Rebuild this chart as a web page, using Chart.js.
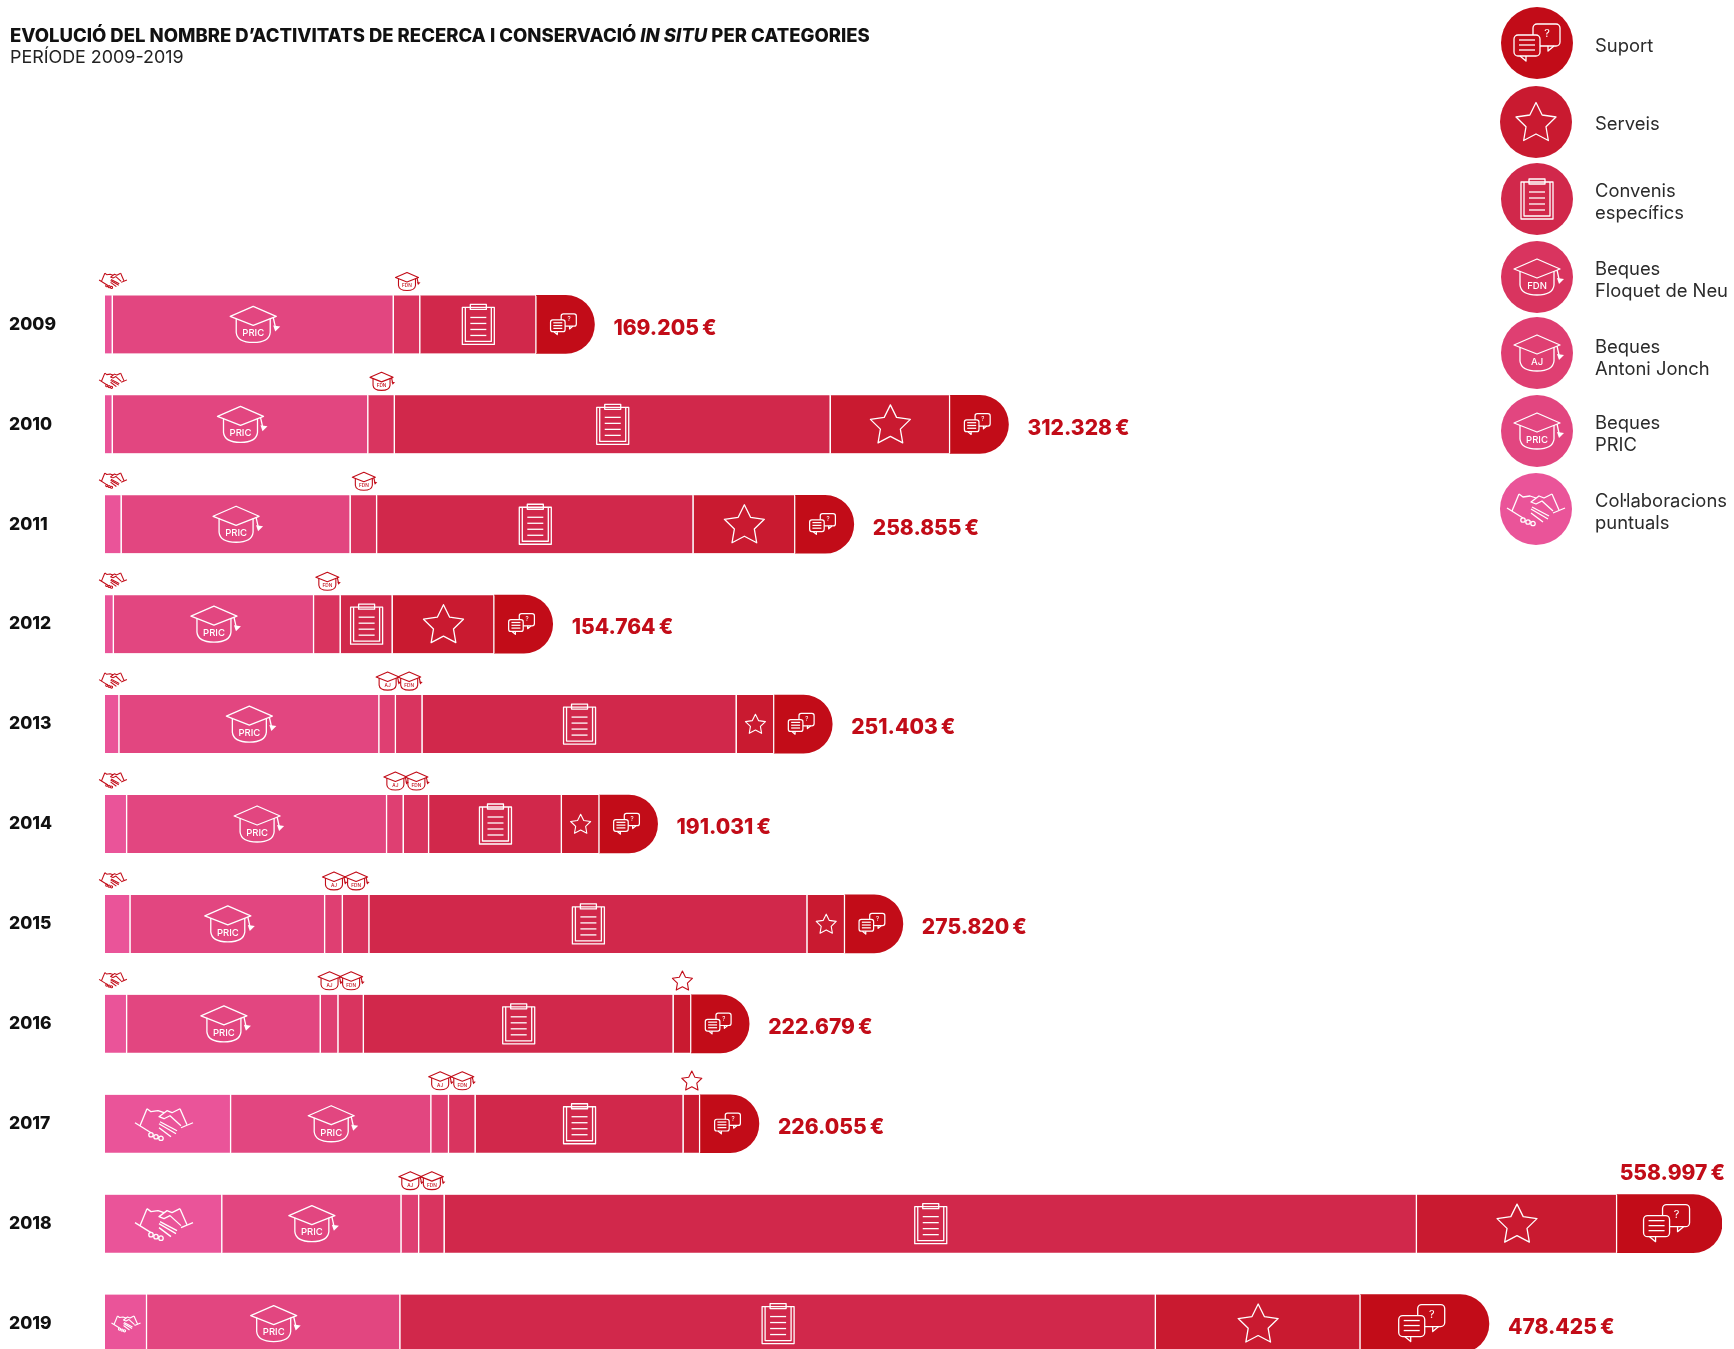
<!DOCTYPE html>
<html lang="ca">
<head>
<meta charset="utf-8">
<title>Evolució del nombre d'activitats</title>
<script src="https://cdn.jsdelivr.net/npm/chart.js@4"></script>
<style>
html, body { margin: 0; padding: 0; width: 1734px; height: 1349px; overflow: hidden; background: #fff; }
#wrap { position: relative; width: 1734px; height: 1349px; overflow: hidden; font-family: Inter, sans-serif; }
#wrap canvas { position: absolute; left: 0; top: 0; }
#title { position: absolute; left: 10px; top: 24px; font-size: 18.5px; font-weight: 800; color: #111; white-space: nowrap; line-height: 22px; }
#subtitle { position: absolute; left: 10px; top: 46px; font-size: 17.9px; font-weight: 400; color: #222; white-space: nowrap; line-height: 22px; }
.leg { position: absolute; left: 1595px; font-size: 18.4px; line-height: 22px; color: #2b2b2b; white-space: nowrap; }
</style>
</head>
<body>
<div id="wrap">
  <canvas id="chart" width="1734" height="1400" style="width:1734px;height:1400px"></canvas>
  <div id="title">EVOLUCIÓ DEL NOMBRE D’ACTIVITATS DE RECERCA I CONSERVACIÓ <i>IN SITU</i> PER CATEGORIES</div>
  <div id="subtitle">PERÍODE 2009-2019</div>
</div>
<script>
const years = ['2009','2010','2011','2012','2013','2014','2015','2016','2017','2018','2019'];

const collab   = [2677, 2677, 5736, 3059, 4971, 7648, 8795, 7648, 43594, 40534, 14531];
const pric     = [97130, 88334, 79157, 69214, 89864, 89864, 67302, 66920, 69214, 61949, 87570];
const jonch    = [null, null, null, null, 5736, 5736, 6118, 6118, 6118, 6118, null];
const floquet  = [9178, 9178, 9178, 9178, 9178, 8795, 9178, 8795, 9178, 8795, null];
const convenis = [40152, 150666, 109366, 17973, 108602, 45888, 151430, 107072, 71891, 336130, 261179];
const serveis  = [null, 41299, 35181, 35181, 13002, 13002, 13002, 6118, 5736, 69214, 70744];
const suport   = [20068, 20174, 20237, 20159, 20050, 20098, 19995, 20008, 20324, 36257, 44401];
const totals   = ['169.205\u2009€','312.328\u2009€','258.855\u2009€','154.764\u2009€','251.403\u2009€','191.031\u2009€','275.820\u2009€','222.679\u2009€','226.055\u2009€','558.997\u2009€','478.425\u2009€'];

const RED = '#c20c18';
const colors = ['#ea5499', '#e24680', '#df3f72', '#d9345f', '#d1284b', '#c91a30', RED];
const names = ['Col·laboracions', 'Beques PRIC', 'Beques Antoni Jonch', 'Beques Floquet de Neu', 'Convenis específics', 'Serveis', 'Suport'];
const series = [collab, pric, jonch, floquet, convenis, serveis, suport];

const legendItems = [
  { label: ['Suport'], icon: 'bubbles', color: colors[6], cx: 1537, cy: 43, ty: 34 },
  { label: ['Serveis'], icon: 'star', color: colors[5], cx: 1536, cy: 122, ty: 112 },
  { label: ['Convenis', 'específics'], icon: 'clipboard', color: colors[4], cx: 1537, cy: 199, ty: 179 },
  { label: ['Beques', 'Floquet de Neu'], icon: 'hat', text: 'FDN', color: colors[3], cx: 1537, cy: 277, ty: 257 },
  { label: ['Beques', 'Antoni Jonch'], icon: 'hat', text: 'AJ', color: colors[2], cx: 1537, cy: 353, ty: 335 },
  { label: ['Beques', 'PRIC'], icon: 'hat', text: 'PRIC', color: colors[1], cx: 1537, cy: 431, ty: 411 },
  { label: ['Col·laboracions', 'puntuals'], icon: 'hands', color: colors[0], cx: 1536, cy: 509, ty: 489 }
];

legendItems.forEach(item => {
  const d = document.createElement('div');
  d.className = 'leg';
  d.style.top = item.ty + 'px';
  d.innerHTML = item.label.join('<br>');
  document.getElementById('wrap').appendChild(d);
});

function line(ctx, pts) {
  ctx.beginPath();
  pts.forEach((p, i) => i ? ctx.lineTo(p[0], p[1]) : ctx.moveTo(p[0], p[1]));
  ctx.stroke();
}

function drawHat(ctx, text) {
  ctx.beginPath();
  ctx.moveTo(-17, -6);
  ctx.lineTo(-17, 8);
  ctx.quadraticCurveTo(-16, 18, 0, 18);
  ctx.quadraticCurveTo(16, 18, 17, 8);
  ctx.lineTo(17, -6);
  ctx.stroke();
  ctx.beginPath();
  ctx.moveTo(0, -18);
  ctx.lineTo(23, -8);
  ctx.lineTo(0, 1);
  ctx.lineTo(-23, -8);
  ctx.closePath();
  ctx.stroke();
  line(ctx, [[20, -7], [22, 2]]);
  ctx.beginPath();
  ctx.moveTo(20, 1);
  ctx.lineTo(27, 2);
  ctx.lineTo(22, 7);
  ctx.closePath();
  ctx.fill();
  if (text) {
    ctx.font = '500 9.5px Inter, sans-serif';
    ctx.textAlign = 'center';
    ctx.textBaseline = 'middle';
    ctx.fillText(text, 0, 9);
  }
}

function drawClipboard(ctx) {
  ctx.strokeRect(-16, -17, 32, 37);
  line(ctx, [[-13, -17], [-13, 17], [13, 17], [13, -17]]);
  ctx.strokeRect(-8, -20, 16, 5);
  [-7, -1, 5, 11].forEach(y => line(ctx, [[-8, y], [8, y]]));
}

function drawStar(ctx) {
  ctx.beginPath();
  for (let i = 0; i < 10; i++) {
    const r = i % 2 ? 10.5 : 21;
    const a = -Math.PI / 2 + i * Math.PI / 5;
    const px = r * Math.cos(a), py = 1.5 + r * Math.sin(a);
    i ? ctx.lineTo(px, py) : ctx.moveTo(px, py);
  }
  ctx.closePath();
  ctx.stroke();
}

function roundBox(ctx, x, y, w, h) {
  ctx.beginPath();
  ctx.roundRect(x, y, w, h, 4);
  ctx.stroke();
}

function drawBubbles(ctx, fill) {
  roundBox(ctx, -4, -19, 27, 22);
  line(ctx, [[17, 3], [11, 8], [11, 3]]);
  ctx.save();
  ctx.fillStyle = fill;
  ctx.beginPath();
  ctx.roundRect(-23, -8, 26, 21, 4);
  ctx.fill();
  ctx.restore();
  roundBox(ctx, -23, -8, 26, 21);
  line(ctx, [[-17, 13], [-11, 18], [-11, 13]]);
  [-3, 2, 7].forEach(y => line(ctx, [[-18, y], [-2, y]]));
  ctx.font = '400 11px Inter, sans-serif';
  ctx.textAlign = 'center';
  ctx.textBaseline = 'middle';
  ctx.fillText('?', 10, -9);
}

function drawHands(ctx) {
  line(ctx, [[-29, -1], [-13, 9]]);
  line(ctx, [[-24, 2], [-17, -15]]);
  line(ctx, [[-17, -15], [-13, -12], [-6, -13], [0, -11]]);
  line(ctx, [[29, -1], [17, 4]]);
  line(ctx, [[23, 1], [16, -15]]);
  line(ctx, [[16, -15], [8, -11], [3, -13], [-5, -7], [0, -5], [6, -8], [17, 2]]);
  line(ctx, [[-4, -2], [13, 7]]);
  line(ctx, [[-5, 0], [12, 10]]);
  line(ctx, [[-5, 4], [7, 13]]);
  [[-13, 11], [-8, 13], [-3, 14.5]].forEach(k => {
    ctx.beginPath();
    ctx.arc(k[0], k[1], 2.2, 0, Math.PI * 2);
    ctx.stroke();
  });
}

function drawIcon(ctx, kind, cx, cy, scale, color, fill, text) {
  ctx.save();
  ctx.translate(cx, cy);
  ctx.scale(scale, scale);
  ctx.strokeStyle = color;
  ctx.fillStyle = color;
  ctx.lineWidth = scale < 0.7 ? 2.2 : 1.3;
  ctx.lineJoin = 'round';
  if (kind === 'hat') drawHat(ctx, text);
  if (kind === 'clipboard') drawClipboard(ctx);
  if (kind === 'star') drawStar(ctx);
  if (kind === 'bubbles') drawBubbles(ctx, fill);
  if (kind === 'hands') drawHands(ctx);
  ctx.restore();
}

// which icon goes on each dataset, and how big for the width of the segment
function iconFor(ds, w) {
  if (ds === 0) {
    if (w < 35) return { kind: 'hands', above: true, scale: 0.48, fixedLeft: 8, dy: -1 };
    if (w < 60) return { kind: 'hands', scale: 0.5 };
    return { kind: 'hands', scale: 1, fixedLeft: 59 };
  }
  if (ds === 1) return { kind: 'hat', text: 'PRIC', scale: 1 };
  if (ds === 2) return { kind: 'hat', text: 'AJ', above: true, scale: 0.5 };
  if (ds === 3) return { kind: 'hat', text: 'FDN', above: true, scale: 0.5 };
  if (ds === 4) return { kind: 'clipboard', scale: 1 };
  if (ds === 5) {
    if (w < 25) return { kind: 'star', above: true, scale: 0.5 };
    if (w < 60) return { kind: 'star', scale: 0.5 };
    return { kind: 'star', scale: 1 };
  }
  return w > 100 ? { kind: 'bubbles', scale: 1, dx: -3 } : { kind: 'bubbles', scale: 0.56, dx: -2 };
}

const iconsPlugin = {
  id: 'icons',
  afterDatasetsDraw(chart) {
    const ctx = chart.ctx;
    chart.data.datasets.forEach((set, ds) => {
      chart.getDatasetMeta(ds).data.forEach((bar, i) => {
        if (set.data[i] == null) return;
        const p = bar.getProps(['x', 'y', 'base'], true);
        const w = p.x - p.base;
        const ic = iconFor(ds, w);
        const cx = ic.fixedLeft ? p.base + ic.fixedLeft : (p.x + p.base) / 2 + (ic.dx || 0);
        const cy = (ic.above ? p.y - 29 - 14 : p.y) + (ic.dy || 0);
        drawIcon(ctx, ic.kind, cx, cy, ic.scale, ic.above ? RED : '#fff', colors[ds], ic.text);
      });
    });

    // totals at the end of each bar; the one that does not fit goes on top
    ctx.save();
    ctx.fillStyle = RED;
    ctx.font = '800 21px Inter, sans-serif';
    ctx.textBaseline = 'middle';
    const last = chart.getDatasetMeta(series.length - 1).data;
    totals.forEach((t, i) => {
      const p = last[i].getProps(['x', 'y'], true);
      const tw = ctx.measureText(t).width;
      if (p.x + 19 + tw > chart.width) {
        ctx.textAlign = 'right';
        ctx.fillText(t, 1725, p.y - 50);
      } else {
        ctx.textAlign = 'left';
        ctx.fillText(t, p.x + 19, p.y + 4);
      }
    });
    ctx.restore();

    legendItems.forEach(item => {
      ctx.fillStyle = item.color;
      ctx.beginPath();
      ctx.arc(item.cx, item.cy, 36, 0, Math.PI * 2);
      ctx.fill();
      drawIcon(ctx, item.icon, item.cx, item.cy, 1, '#fff', item.color, item.text);
    });
  }
};

new Chart(document.getElementById('chart'), {
  type: 'bar',
  plugins: [iconsPlugin],
  data: {
    labels: years,
    datasets: series.map((values, i) => ({
      label: names[i],
      data: values,
      backgroundColor: colors[i],
      borderColor: '#fff',
      borderWidth: i < 6 ? { right: 1.5 } : 0,
      borderRadius: i === 6 ? { topRight: 29, bottomRight: 29 } : 0,
      barThickness: 58
    }))
  },
  options: {
    indexAxis: 'y',
    responsive: false,
    animation: false,
    layout: { padding: { left: 9, right: 12, top: 274.5, bottom: 26.5 } },
    plugins: { legend: { display: false }, tooltip: { enabled: false }, title: { display: false } },
    scales: {
      x: { stacked: true, min: 0, max: 558997, display: false },
      y: {
        stacked: true,
        grid: { display: false },
        border: { display: false },
        afterFit(scale) { scale.width = 96; },
        ticks: { crossAlign: 'far', color: '#111', font: { family: 'Inter, sans-serif', size: 17.5, weight: '800' } }
      }
    }
  }
});
</script>
</body>
</html>
